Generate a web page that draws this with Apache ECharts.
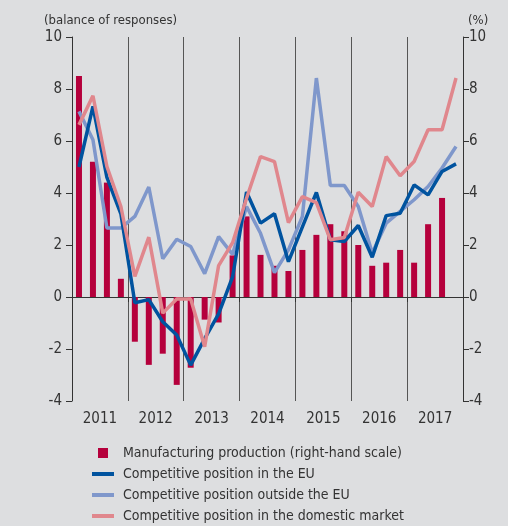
<!DOCTYPE html>
<html>
<head>
<meta charset="utf-8">
<script src="https://cdn.jsdelivr.net/npm/echarts@6/dist/echarts.min.js"></script>
<style>
html,body{margin:0;padding:0;background:#dddee0;}
#chart{width:508px;height:526px;}
</style>
</head>
<body>
<div id="chart"></div>
<script>
const quarters = [];
const years = ['2011','2012','2013','2014','2015','2016','2017'];
years.forEach(y => ['Q1','Q2','Q3','Q4'].forEach(q => quarters.push(y + q)));
const yTicks = [-4, -2, 0, 2, 4, 6, 8, 10];

const manufacturing = [8.5, 5.2, 4.4, 0.7, -1.72, -2.61, -2.18, -3.38, -2.72, -0.87, -0.98, 1.6,
  3.1, 1.62, 1.2, 1.0, 1.81, 2.39, 2.8, 2.53, 2.0, 1.2, 1.32, 1.81, 1.32, 2.8, 3.81, null];
const compEU = [5.0, 7.33, 4.6, 3.2, -0.22, -0.1, -0.95, -1.46, -2.62, -1.6, -0.65, 0.77,
  4.04, 2.84, 3.2, 1.36, 2.7, 4.02, 2.2, 2.13, 2.75, 1.53, 3.13, 3.22, 4.31, 3.93, 4.83, 5.12];
const compOutsideEU = [7.14, 6.05, 2.65, 2.65, 3.1, 4.23, 1.47, 2.22, 1.94, 0.9, 2.32, 1.64,
  3.48, 2.45, 0.94, 1.81, 3.1, 8.42, 4.29, 4.29, 3.48, 1.69, 2.84, 3.29, 3.74, 4.25, 4.96, 5.79];
const compDomestic = [6.62, 7.74, 5.02, 3.48, 0.79, 2.3, -0.62, -0.08, -0.08, -1.91, 1.21, 2.09,
  3.8, 5.4, 5.21, 2.86, 3.86, 3.63, 2.2, 2.29, 4.03, 3.48, 5.4, 4.66, 5.21, 6.43, 6.43, 8.42];

const FONT = '"Liberation Sans Narrow", "DejaVu Sans Condensed", sans-serif';
const TXT = '#333333';
const chart = echarts.init(document.getElementById('chart'), null, {renderer: 'canvas'});

const lineIcon = 'path://M0,0L22,0L22,4L0,4Z';
const sqIcon = 'path://M0,0L10,0L10,10L0,10Z';

chart.setOption({
  backgroundColor: '#dddee0',
  animation: false,
  textStyle: {fontFamily: FONT, color: TXT},
  grid: {left: 72, right: 45, top: 37, bottom: 125, containLabel: false},
  graphic: [
    {type: 'text', left: 44, top: 14, style: {text: '(balance of responses)', fontFamily: FONT, fontSize: 13, fill: TXT}},
    {type: 'text', left: 468, top: 14, style: {text: '(%)', fontFamily: FONT, fontSize: 13, fill: TXT}}
  ],
  legend: {
    orient: 'vertical', left: 92, top: 445, padding: 0, height: 120,
    itemWidth: 22, itemHeight: 10, itemGap: 5,
    textStyle: {fontFamily: FONT, fontSize: 14, color: TXT, lineHeight: 16, padding: [0, 0, 0, 4]},
    data: [
      {name: 'Manufacturing production (right-hand scale)', icon: sqIcon},
      {name: 'Competitive position in the EU', icon: lineIcon},
      {name: 'Competitive position outside the EU', icon: lineIcon},
      {name: 'Competitive position in the domestic market', icon: lineIcon}
    ]
  },
  xAxis: [
    {
      type: 'category', data: quarters, boundaryGap: true,
      axisLine: {onZero: true, lineStyle: {color: '#333', width: 1}},
      axisTick: {show: true, length: 5, lineStyle: {color: '#333'}},
      axisLabel: {show: false},
      splitLine: {show: true, interval: (i) => i % 4 === 0 && i > 0, lineStyle: {color: '#555', width: 1}}
    },
    {
      type: 'category', data: years, position: 'bottom', boundaryGap: true,
      axisLine: {show: false}, axisTick: {show: false}, splitLine: {show: false},
      axisLabel: {fontFamily: FONT, fontSize: 15, color: TXT, margin: 11}
    }
  ],
  yAxis: [
    {
      type: 'value', min: -4, max: 10, interval: 2, position: 'left',
      axisLine: {show: true, lineStyle: {color: '#333'}},
      axisTick: {show: true, length: 6, lineStyle: {color: '#333'}},
      axisLabel: {fontFamily: FONT, fontSize: 15, color: TXT, margin: 10},
      splitLine: {show: false}
    },
    {
      type: 'value', min: -4, max: 10, interval: 2, position: 'right',
      axisLine: {show: true, lineStyle: {color: '#333'}},
      axisTick: {show: true, length: 6, lineStyle: {color: '#333'}},
      axisLabel: {fontFamily: FONT, fontSize: 15, color: TXT, margin: 6},
      splitLine: {show: false}
    }
  ],
  series: [
    {name: 'Manufacturing production (right-hand scale)', type: 'bar', yAxisIndex: 1, xAxisIndex: 0,
      data: manufacturing, barWidth: 6, itemStyle: {color: '#b5003c'}, z: 1},
    {name: 'Competitive position in the EU', type: 'line', data: compEU, symbol: 'none',
      lineStyle: {color: '#00539f', width: 3.5}, itemStyle: {color: '#00539f'}, z: 4},
    {name: 'Competitive position outside the EU', type: 'line', data: compOutsideEU, symbol: 'none',
      lineStyle: {color: '#7f97cb', width: 3.5}, itemStyle: {color: '#7f97cb'}, z: 3},
    {name: 'Competitive position in the domestic market', type: 'line', data: compDomestic, symbol: 'none',
      lineStyle: {color: '#e0878d', width: 3.5}, itemStyle: {color: '#e0878d'}, z: 5}
  ]
});
</script>
</body>
</html>
